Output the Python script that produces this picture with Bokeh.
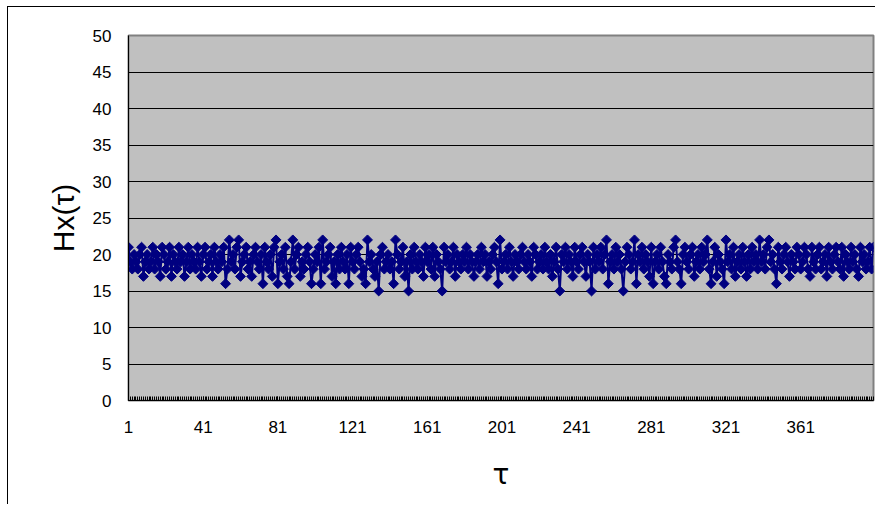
from bokeh.plotting import figure
from bokeh.models import Range1d, FixedTicker
from bokeh.embed import file_html
from bokeh.resources import INLINE
import numpy as np

# tau = 1..400
hx_values = [
    21,19,18,20,19,18,20,21,17,19,20,18,19,21,18,20,19,17,21,20,
    18,19,21,17,20,19,18,21,19,20,17,19,21,18,20,19,18,21,19,17,
    20,21,18,19,20,17,21,19,18,20,19,21,16,18,22,19,20,18,21,22,
    17,19,20,21,18,19,17,20,21,19,18,20,16,21,19,18,20,17,21,22,
    16,19,20,18,21,17,16,19,22,18,20,21,17,19,18,20,21,19,16,18,
    20,19,21,16,22,18,19,20,21,17,19,16,20,18,21,19,18,20,16,21,
    19,18,20,21,19,17,18,16,22,19,20,18,17,19,15,20,21,18,19,20,
    18,19,16,22,20,18,19,21,17,19,15,20,18,21,19,18,20,19,17,21,
    19,20,18,21,17,20,19,18,15,21,19,20,18,19,21,17,20,19,18,20,
    19,21,18,20,19,17,19,20,18,21,19,20,17,19,18,20,21,19,16,22,
    18,19,20,18,21,19,17,20,19,18,20,21,19,18,20,19,17,21,20,18,
    19,20,18,21,19,18,20,17,19,21,18,15,20,19,21,18,20,19,17,21,
    19,18,20,21,19,17,20,19,15,21,18,20,19,21,18,20,22,16,19,20,
    18,21,19,20,18,15,19,21,20,18,19,22,16,20,19,21,18,20,19,17,
    21,16,19,20,18,21,19,17,16,20,19,18,21,22,19,18,16,20,21,19,
    18,20,21,17,19,20,18,21,19,20,22,18,16,19,21,17,20,19,18,16,
    22,19,20,18,21,17,19,20,18,21,19,17,20,18,21,19,20,18,22,19,
    20,18,21,22,19,20,18,16,21,19,18,20,21,19,17,20,19,18,21,20,
    18,19,21,20,18,17,21,19,18,20,21,18,19,20,17,21,19,18,20,21,
    19,18,21,17,20,19,18,21,19,20,18,17,21,19,20,18,19,21,18,21,
]
tau = list(range(1, len(hx_values) + 1))
x_tick_labels = [1, 41, 81, 121, 161, 201, 241, 281, 321, 361]
y_ticks = [0, 5, 10, 15, 20, 25, 30, 35, 40, 45, 50]

# page offset of the chart border (the figure is shifted by it)
off_x, off_y = 8, 7

p = figure(
    width=883 - off_x, height=511 - off_y,
    frame_width=745, frame_height=365,
    min_border_left=128 - off_x, min_border_right=2,
    min_border_top=35 - off_y, min_border_bottom=104,
    x_range=Range1d(1, len(hx_values)), y_range=Range1d(0, 50),
    output_backend="svg", toolbar_location=None,
)
p.styles = {
    "margin-left": "7px",
    "margin-top": "6px",
    "border-left": "1px solid black",
    "border-top": "1px solid black",
}
p.background_fill_color = "#C0C0C0"
p.border_fill_color = "white"
p.outline_line_color = "#808080"
p.outline_line_width = 2

# grid
p.xgrid.grid_line_color = None
p.ygrid.grid_line_color = "black"
p.ygrid.grid_line_width = 1
p.ygrid.ticker = FixedTicker(ticks=y_ticks)

tick_font = "Liberation Sans"

# x axis
p.xaxis.ticker = FixedTicker(ticks=x_tick_labels, minor_ticks=tau)
p.xaxis.major_tick_in = 4
p.xaxis.major_tick_out = 0
p.xaxis.minor_tick_in = 4
p.xaxis.minor_tick_out = 0
p.xaxis.major_tick_line_color = "black"
p.xaxis.minor_tick_line_color = "black"
p.xaxis.axis_line_color = "black"
p.xaxis.major_label_text_font = tick_font
p.xaxis.major_label_text_font_size = "17px"
p.xaxis.major_label_text_color = "black"
p.xaxis.major_label_standoff = 20
p.xaxis.axis_label = "τ"
p.xaxis.axis_label_text_font = "DejaVu Sans"
p.xaxis.axis_label_text_font_size = "28px"
p.xaxis.axis_label_text_font_style = "normal"
p.xaxis.axis_label_text_color = "black"
p.xaxis.axis_label_standoff = 22

# y axis
p.yaxis.ticker = FixedTicker(ticks=y_ticks)
p.yaxis.major_tick_in = 0
p.yaxis.major_tick_out = 0
p.yaxis.minor_tick_line_color = None
p.yaxis.axis_line_color = "black"
p.yaxis.major_label_text_font = tick_font
p.yaxis.major_label_text_font_size = "17px"
p.yaxis.major_label_text_color = "black"
p.yaxis.major_label_standoff = 17
p.yaxis.axis_label = "Hx(τ)"
p.yaxis.axis_label_text_font = "Liberation Sans"
p.yaxis.axis_label_text_font_size = "30px"
p.yaxis.axis_label_text_font_style = "normal"
p.yaxis.axis_label_text_color = "black"
p.yaxis.axis_label_standoff = 10

# series
p.line(tau, hx_values, line_color="#000080", line_width=2)
p.scatter(tau, hx_values, marker="square", angle=np.pi / 4, size=7,
          fill_color="#000080", line_color="#000080")

open("out.html", "w").write(file_html(p, INLINE))
